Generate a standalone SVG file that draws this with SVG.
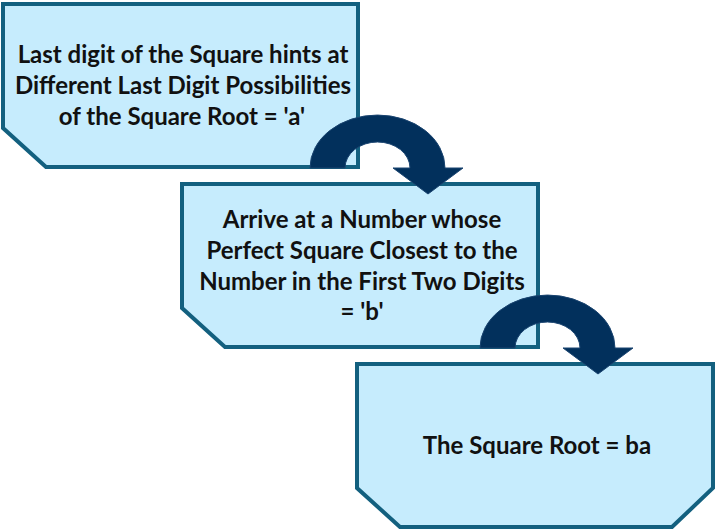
<svg xmlns="http://www.w3.org/2000/svg" width="716" height="531" viewBox="0 0 716 531">
<style>
.box{fill:#c6ecfd;stroke:#13607f;stroke-width:4;stroke-linejoin:miter}
.arrow{fill:#02305c;stroke:#1a4470;stroke-width:1}
text{font-family:Lato,"Open Sans","Liberation Sans",sans-serif;font-weight:bold;font-size:24px;fill:#111;text-anchor:middle}
</style>
<rect width="716" height="531" fill="#fff"/>
<g id="node1">
<polygon class="box" points="3,4 358,4 358,167 46,167 3,128"/>
<text x="183" y="63">Last digit of the Square hints at</text>
<text x="183" y="94">Different Last Digit Possibilities</text>
<text x="182" y="125">of the Square Root = 'a'</text>
</g>
<g id="node2">
<polygon class="box" points="182,184 538,184 538,347 225,347 182,308"/>
<text x="362" y="228">Arrive at a Number whose</text>
<text x="362" y="259">Perfect Square Closest to the</text>
<text x="362" y="290">Number in the First Two Digits</text>
<text x="362" y="320">= 'b'</text>
</g>
<g id="node3">
<polygon class="box" points="357,364 713,364 713,488 672,527 400,527 357,488"/>
<text x="537" y="454">The Square Root = ba</text>
</g>
<g id="connectors">
<path class="arrow" d="M310,168 A67.5,53 0 0 1 445,168 L463,168 L428,194 L393,168 L410,168 A32.5,26 0 0 0 345,168 Z"/>
<path class="arrow" transform="translate(170,180)" d="M310,168 A67.5,53 0 0 1 445,168 L463,168 L428,194 L393,168 L410,168 A32.5,26 0 0 0 345,168 Z"/>
</g>
</svg>
